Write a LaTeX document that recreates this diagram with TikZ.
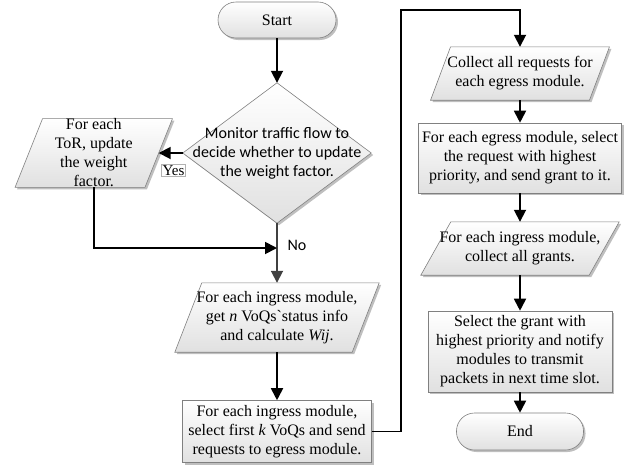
\documentclass[tikz,border=0pt]{standalone}
\usepackage{fontspec}
\setmainfont{Liberation Serif}
\newfontfamily\labelsans{Carlito}
\newfontfamily\rawserif{Liberation Serif}[Ligatures=TeXOff]
\usetikzlibrary{arrows.meta,shadows,backgrounds}

\tikzset{
  shapefill/.style={draw=black!50, line width=0.6pt, top color=white, bottom color=black!12,
    drop shadow={shadow xshift=2pt, shadow yshift=-2pt, opacity=0.25, fill=black}},
  bodyfont/.style={font=\fontsize{16}{19}\selectfont},
  procbox/.style={shapefill, rectangle, inner sep=2pt, align=center, bodyfont},
  term/.style={procbox, rounded corners=18pt},
  carrier/.style={rectangle, inner sep=0pt, align=center, bodyfont},
  decision/.style={rectangle, inner sep=0pt, align=center, font=\labelsans\fontsize{16}{19}\selectfont},
  flow/.style={draw=black, line width=1.8pt, -{Triangle[length=12pt,width=12pt]}},
  yesbox/.style={draw=black!30, line width=0.4pt, fill=white, inner sep=1pt, font=\fontsize{15}{17}\selectfont},
  nolabel/.style={inner sep=0pt, font=\labelsans\fontsize{16}{19}\selectfont},
}

% input/output parallelogram around a carrier node: #1 node, #2 horizontal slant
\newcommand\slantshape[2]{%
  \path[shapefill] ([xshift=#2/2]#1.north west) -- ([xshift=#2/2]#1.north east)
    -- ([xshift=-#2/2]#1.south east) -- ([xshift=-#2/2]#1.south west) -- cycle;}

\begin{document}
\begin{tikzpicture}[x=1pt, y=-1pt]
\useasboundingbox (0,0) rectangle (632,466);

% left column
\node[term, minimum width=118pt, minimum height=36pt] (start) at (277,20) {Start};
\node[decision, minimum width=188pt, minimum height=140pt] (dia) at (277,153)
  {Monitor traffic flow to\\decide whether to update\\the weight factor.};
\node[carrier, minimum width=129.5pt, minimum height=68pt] (tor) at (93.75,153)
  {For each\\ToR, update\\the weight\\factor.};
\node[carrier, minimum width=177pt, minimum height=69pt] (ingr) at (277,317.5)
  {For each ingress module,\\get \textit{n} VoQs{\rawserif`}status info\\and calculate \textit{Wij}.};
\node[procbox, minimum width=189pt, minimum height=62pt] (sel) at (277,431.5)
  {For each ingress module,\\select first \textit{k} VoQs and send\\requests to egress module.};

% right column
\node[carrier, minimum width=158.5pt, minimum height=53pt] (coll) at (520,73.5)
  {Collect all requests for\\each egress module.};
\node[procbox, minimum width=203pt, minimum height=70pt] (egr) at (520,158)
  {For each egress module, select\\the request with highest\\priority, and send grant to it.};
\node[carrier, minimum width=168pt, minimum height=53pt] (grants) at (520,248.5)
  {For each ingress module,\\collect all grants.};
\node[procbox, minimum width=184pt, minimum height=81pt] (pick) at (520,351.5)
  {Select the grant with\\highest priority and notify\\modules to transmit\\packets in next time slot.};
\node[term, minimum width=127pt, minimum height=37pt] (end) at (520,431.5) {End};

% outlines of the decision and the data shapes
\begin{pgfonlayer}{background}
  \path[shapefill] (dia.north) -- (dia.east) -- (dia.south) -- (dia.west) -- cycle;
  \slantshape{tor}{27.5}
  \slantshape{ingr}{27}
  \slantshape{coll}{20}
  \slantshape{grants}{30}
\end{pgfonlayer}

% connectors
\coordinate (join) at (277,248);
\coordinate (turn) at (401,10);
\draw[flow] (start.south) -- (dia.north);
\draw[flow] (dia.west) -- (tor.east);
\draw[flow, draw=black!75] (dia.south) -- (ingr.north);
\draw[flow] (tor.south) |- (join);
\draw[flow] (ingr.south) -- (sel.north);
\draw[flow] (sel.east) -| (turn) -| (coll.north);
\draw[flow] (coll.south) -- (egr.north);
\draw[flow] (egr.south) -- (grants.north);
\draw[flow] (grants.south) -- (pick.north);
\draw[flow] (pick.south) -- (end.north);

% branch labels
\node[yesbox] (yes) at (173.5,170.5) {Yes};
\node[nolabel] (no) at (297,245) {No};
\end{tikzpicture}
\end{document}
